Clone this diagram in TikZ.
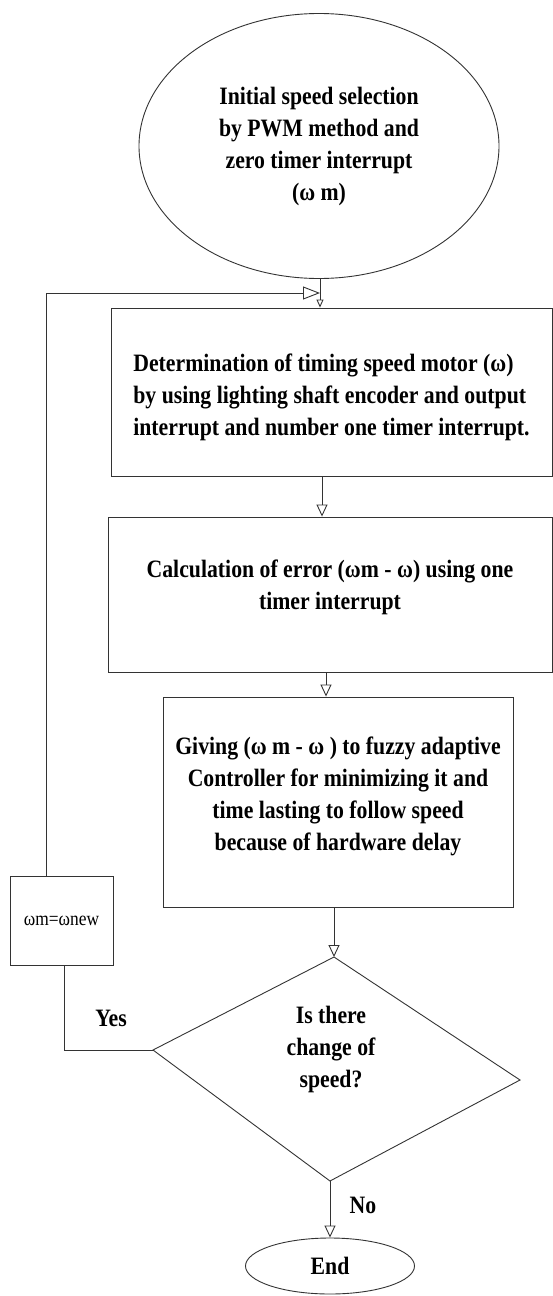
\documentclass[tikz,border=0pt]{standalone}
\usepackage{fontspec}
\setmainfont{Liberation Serif}[FakeStretch=0.87]
\usetikzlibrary{shapes.geometric,arrows.meta}
\begin{document}
\begin{tikzpicture}[x={(1pt,0)},y={(0,-1pt)},
  ln/.style={draw=black!80,line width=0.9pt},
  arr/.style={ln,-{Triangle[open,length=12pt,width=11pt]}},
  bigarr/.style={ln,-{Triangle[open,length=17pt,width=13pt]}},
  smallarr/.style={ln,-{Triangle[open,length=8pt,width=7pt]}},
  txt/.style={font=\fontsize{25}{32}\selectfont\bfseries},
  stepbox/.style={ln,rectangle,inner sep=0pt},
  oval/.style={ln,ellipse,inner sep=0pt,txt},
  lbl/.style={txt,inner sep=0pt}]
\useasboundingbox (0,0) rectangle (553,1296);

\node[oval,minimum width=360pt,minimum height=265pt,align=center] (start) at (319,146)
  {Initial speed selection\\by PWM method and\\zero timer interrupt\\(ω m)};

\node[stepbox,minimum width=441pt,minimum height=168pt,
  label={[lbl,align=left,name=box1t,yshift=-5pt]center:Determination of timing speed motor (ω)\\by using lighting shaft encoder and output\\interrupt and number one timer interrupt.}] (box1) at (331.5,392) {};

\node[stepbox,minimum width=444pt,minimum height=155pt,
  label={[lbl,align=center,name=box2t,yshift=7pt]center:Calculation of error (ωm - ω) using one\\timer interrupt}] (box2) at (330,594.5) {};

\node[stepbox,minimum width=350pt,minimum height=210pt,
  label={[lbl,align=center,name=box3t,yshift=6pt]center:Giving (ω m - ω ) to fuzzy adaptive\\Controller for minimizing it and\\time lasting to follow speed\\because of hardware delay}] (box3) at (338,802) {};

\coordinate (dtop) at (334,957);
\coordinate (dright) at (520,1080);
\coordinate (dbot) at (330,1181);
\coordinate (dleft) at (153,1050);
\draw[ln] (dtop) -- (dright) -- (dbot) -- (dleft) -- cycle;
\node[lbl,align=center] (q) at (331,1049) {Is there\\change of\\speed?};

\node[oval,minimum width=169pt,minimum height=56pt] (end) at (330,1266) {End};

\node[ln,rectangle,inner sep=0pt,minimum width=103pt,minimum height=89pt,
  font=\fontsize{20}{22}\selectfont] (upd) at (61.5,920.5) {ωm=ωnew};

\node[lbl] (yes) at (111,1018) {Yes};
\node[lbl] (no) at (363,1205) {No};

% main flow
\draw[smallarr] (start.south -| 320,0) -- (box1.north -| 320,0);
\draw[arr] (box1.south -| 322,0) -- (box2.north -| 322,0);
\draw[arr] (box2.south -| 326,0) -- (box3.north -| 326,0);
\draw[arr] (box3.south -| dtop) -- (dtop);
\draw[arr] (dbot) -- (end.north -| dbot);

% yes branch and feedback
\draw[ln] (dleft) -- (dleft -| 64,0) -- (upd.south -| 64,0);
\coordinate (fbend) at (320,293);
\draw[bigarr] (upd.north -| 46,0) -- (46,293) -- (fbend);
\end{tikzpicture}
\end{document}
